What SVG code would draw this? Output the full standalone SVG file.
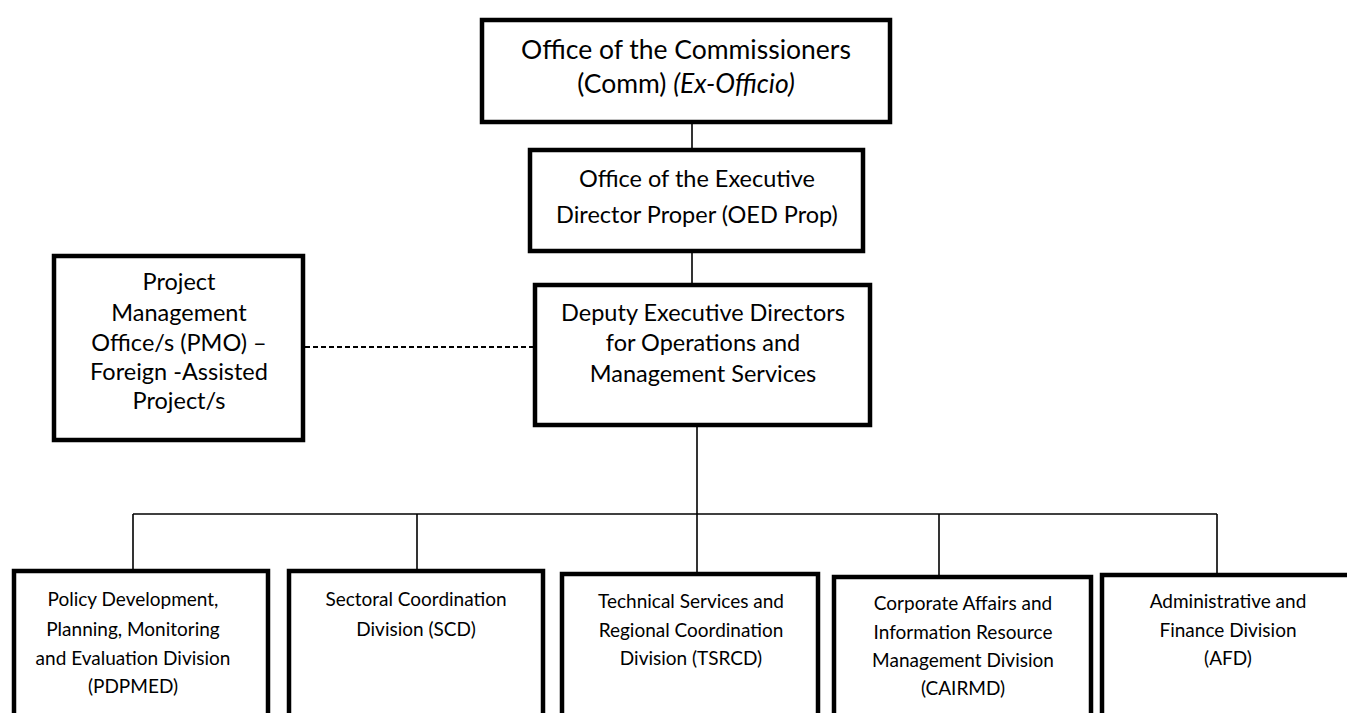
<svg xmlns="http://www.w3.org/2000/svg" width="1347" height="713" viewBox="0 0 1347 713">
<style>
.box{fill:#fff;stroke:#000;stroke-width:4.5}
.ln{fill:none;stroke:#000;stroke-width:1.6}
.dash{fill:none;stroke:#000;stroke-width:2;stroke-dasharray:5 3}
text{font-family:Lato,"Liberation Sans",sans-serif;fill:#000;text-anchor:middle}
.t26{font-size:26.5px}
.t22{font-size:23.5px}
.t18{font-size:19px}
</style>
<rect width="1347" height="713" fill="#fff"/>
<g id="connectors">
<line class="ln" x1="692" y1="124" x2="692" y2="148"/>
<line class="ln" x1="692" y1="253" x2="692" y2="283"/>
<line class="ln" x1="697" y1="427" x2="697" y2="514"/>
<line class="ln" x1="133" y1="514" x2="1217" y2="514"/>
<line class="ln" x1="133" y1="514" x2="133" y2="570"/>
<line class="ln" x1="417" y1="514" x2="417" y2="570"/>
<line class="ln" x1="697" y1="514" x2="697" y2="573"/>
<line class="ln" x1="939" y1="514" x2="939" y2="576"/>
<line class="ln" x1="1217" y1="514" x2="1217" y2="574"/>
<line class="dash" x1="305" y1="347" x2="533" y2="347"/>
</g>
<g id="comm">
<rect class="box" x="482" y="20" width="408" height="102"/>
<text class="t26" x="686" y="59">Office of the Commissioners</text>
<text class="t26" x="686" y="93">(Comm) <tspan font-style="italic">(Ex-Officio)</tspan></text>
</g>
<g id="oed">
<rect class="box" x="530" y="150" width="333" height="101"/>
<text class="t22" x="697" y="187">Office of the Executive</text>
<text class="t22" x="697" y="223">Director Proper (OED Prop)</text>
</g>
<g id="deputy">
<rect class="box" x="535" y="285" width="335" height="140"/>
<text class="t22" x="703" y="321">Deputy Executive Directors</text>
<text class="t22" x="703" y="351">for Operations and</text>
<text class="t22" x="703" y="382">Management Services</text>
</g>
<g id="pmo">
<rect class="box" x="54" y="256" width="249" height="184"/>
<text class="t22" x="179" y="290">Project</text>
<text class="t22" x="179" y="321">Management</text>
<text class="t22" x="179" y="351">Office/s (PMO) –</text>
<text class="t22" x="179" y="380">Foreign -Assisted</text>
<text class="t22" x="179" y="409">Project/s</text>
</g>
<g id="pdpmed">
<rect class="box" x="14" y="571" width="254" height="200"/>
<text class="t18" x="133" y="606">Policy Development,</text>
<text class="t18" x="133" y="636">Planning, Monitoring</text>
<text class="t18" x="133" y="665">and Evaluation Division</text>
<text class="t18" x="133" y="693">(PDPMED)</text>
</g>
<g id="scd">
<rect class="box" x="289" y="571" width="254" height="200"/>
<text class="t18" x="416" y="606">Sectoral Coordination</text>
<text class="t18" x="416" y="636">Division (SCD)</text>
</g>
<g id="tsrcd">
<rect class="box" x="562" y="574" width="256" height="200"/>
<text class="t18" x="691" y="608">Technical Services and</text>
<text class="t18" x="691" y="637">Regional Coordination</text>
<text class="t18" x="691" y="665">Division (TSRCD)</text>
</g>
<g id="cairmd">
<rect class="box" x="834" y="577" width="257" height="200"/>
<text class="t18" x="963" y="610">Corporate Affairs and</text>
<text class="t18" x="963" y="639">Information Resource</text>
<text class="t18" x="963" y="667">Management Division</text>
<text class="t18" x="963" y="695">(CAIRMD)</text>
</g>
<g id="afd">
<rect class="box" x="1102" y="575" width="300" height="200"/>
<text class="t18" x="1228" y="608">Administrative and</text>
<text class="t18" x="1228" y="637">Finance Division</text>
<text class="t18" x="1228" y="665">(AFD)</text>
</g>
</svg>
